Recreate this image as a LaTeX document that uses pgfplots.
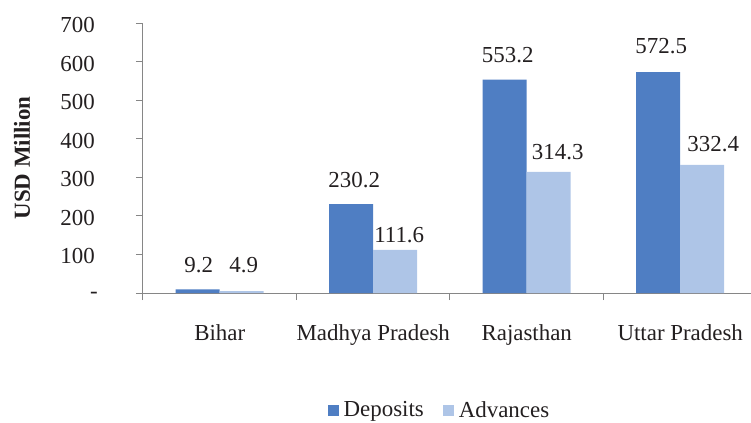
\documentclass[border=0pt]{standalone}
\usepackage{pgfplots}
\pgfplotsset{compat=1.18}
\usepackage{pgfplotstable}
\usepackage{fontspec}
\setmainfont{Liberation Serif}
\definecolor{dep}{RGB}{79,126,195}
\definecolor{adv}{RGB}{174,197,231}
\definecolor{axgray}{RGB}{134,134,134}
\definecolor{txt}{RGB}{35,31,32}

\pgfplotstableread{
x y lab dy dx
0 9.2 9.2 17 1
1 230.2 230.2 17 3
2 553.2 553.2 17 3
3 572.5 572.5 19 3
}\deposits
\pgfplotstableread{
x y lab dy dx
0 4.9 4.9 19 2
1 111.6 111.6 7 4
2 314.3 314.3 12 9
3 332.4 332.4 13 11
}\advances

\begin{document}
\fontsize{23}{27}\selectfont
\begin{tikzpicture}
\useasboundingbox (-143bp,-130bp) rectangle (608bp,293bp);
\begin{axis}[
 at={(0,0)}, anchor=south west,
 scale only axis, width=608bp, height=270bp,
 ybar=0pt, bar width=44bp,
 xmin=-0.5, xmax=3.461, ymin=0, ymax=700,
 axis lines=left, axis line style={-, draw=axgray, line width=1pt},
 xtick={0,1,2,3}, xticklabels={Bihar,Madhya Pradesh,Rajasthan,Uttar Pradesh},
 minor xtick={-0.5,0.5,1.5,2.5,3.5},
 ytick={0,100,...,700}, yticklabels={{-\kern-3bp},100,200,300,400,500,600,700},
 tick align=outside, major tick length=7bp, minor tick length=7bp,
 tick style={draw=axgray, line width=1pt},
 major x tick style={draw=none},
 xticklabel style={anchor=base, inner sep=0pt, yshift=-40bp, text=txt},
 yticklabel style={anchor=east, inner sep=0pt, xshift=-41bp, yshift=-2bp, text=txt},
 ylabel={\textbf{USD Million}},
 ylabel style={at={(axis description cs:-0.199,0.5)}, anchor=center, text=txt},
 legend style={at={(axis description cs:0.490,-0.437)}, anchor=center, draw=none, fill=none,
   legend columns=2, /tikz/every even column/.append style={column sep=14bp},
   nodes={inner sep=5bp, text=txt}},
 legend cell align=left,
 point meta=explicit symbolic,
 nodes near coords,
 visualization depends on={\thisrow{dy} \as \dy},
 visualization depends on={\thisrow{dx} \as \dx},
 nodes near coords style={anchor=base, inner sep=0pt, yshift=\dy bp, xshift=\dx bp, text=txt},
]
\addplot[fill=dep, draw=none, legend image code/.code={\fill[dep] (0bp,-5.5bp) rectangle (11bp,5.5bp);}]
  table[x=x, y=y, meta=lab] {\deposits};
\addplot[fill=adv, draw=none, legend image code/.code={\fill[adv] (0bp,-5.5bp) rectangle (11bp,5.5bp);}]
  table[x=x, y=y, meta=lab] {\advances};
\legend{Deposits, Advances}
\end{axis}
\end{tikzpicture}
\end{document}
